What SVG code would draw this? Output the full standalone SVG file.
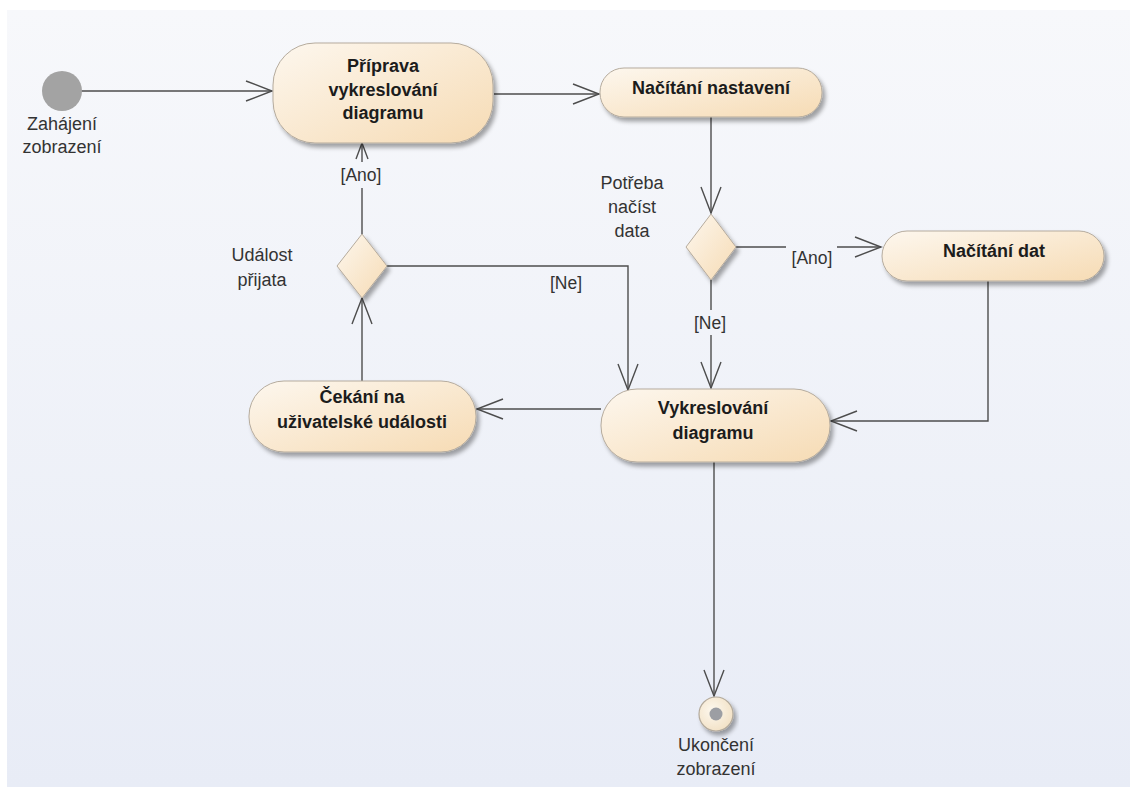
<svg xmlns="http://www.w3.org/2000/svg" width="1130" height="787" viewBox="0 0 1130 787">
  <defs>
    <linearGradient id="bg" x1="0" y1="0" x2="0" y2="1">
      <stop offset="0" stop-color="#f7f8fb"/>
      <stop offset="1" stop-color="#e8ecf6"/>
    </linearGradient>
    <linearGradient id="act" x1="0" y1="0" x2="1" y2="1">
      <stop offset="0" stop-color="#fdf7ee"/>
      <stop offset="1" stop-color="#f6dbb4"/>
    </linearGradient>
    <radialGradient id="endFill" cx="0.4" cy="0.4" r="0.7">
      <stop offset="0" stop-color="#fdf8ee"/>
      <stop offset="1" stop-color="#f1dfc2"/>
    </radialGradient>
    <filter id="shadow" x="-10%" y="-10%" width="125%" height="135%">
      <feDropShadow dx="3" dy="4" stdDeviation="2" flood-color="#000" flood-opacity="0.35"/>
    </filter>
    <marker id="open" markerUnits="userSpaceOnUse" viewBox="-28 -12 30 24" refX="0" refY="0" markerWidth="30" markerHeight="24" orient="auto">
      <path d="M -26 -10 L 0 0 L -26 10" fill="none" stroke="#4d4d4d" stroke-width="1.4"/>
    </marker>
    <marker id="openSmall" markerUnits="userSpaceOnUse" viewBox="-18 -8 20 16" refX="0" refY="0" markerWidth="20" markerHeight="16" orient="auto">
      <path d="M -16 -6 L 0 0 L -16 6" fill="none" stroke="#4d4d4d" stroke-width="1.4"/>
    </marker>
  </defs>
  <style>
    .flow { fill: none; stroke: #4d4d4d; stroke-width: 1.4; }
    .action { fill: url(#act); stroke: #b5ab9d; stroke-width: 1; filter: url(#shadow); }
    .title { font-family: "Liberation Sans", Arial, sans-serif; font-size: 18px; font-weight: bold; fill: #1c1c1c; text-anchor: middle; }
    .note { font-family: "Liberation Sans", Arial, sans-serif; font-size: 18px; fill: #333; text-anchor: middle; }
    .guard { font-family: "Liberation Sans", Arial, sans-serif; font-size: 17.5px; fill: #333; text-anchor: middle; }
  </style>

  <rect x="0" y="0" width="1130" height="787" fill="#ffffff"/>
  <rect x="7" y="10" width="1123" height="777" fill="url(#bg)"/>

  <!-- connectors -->
  <g id="connectors">
    <path class="flow" d="M 81 91 L 272 91" marker-end="url(#open)"/>
    <path class="flow" d="M 494 94 L 599 94" marker-end="url(#open)"/>
    <path class="flow" d="M 711 117 L 711 213" marker-end="url(#open)"/>
    <path class="flow" d="M 736 247 L 786 247"/>
    <path class="flow" d="M 837 247 L 881 247" marker-end="url(#open)"/>
    <path class="flow" d="M 711 280 L 711 310"/>
    <path class="flow" d="M 711 335 L 711 388" marker-end="url(#open)"/>
    <path class="flow" d="M 988 281 L 988 421 L 831 421" marker-end="url(#open)"/>
    <path class="flow" d="M 386 266 L 628 266 L 628 390" marker-end="url(#open)"/>
    <path class="flow" d="M 601 409 L 477 409" marker-end="url(#open)"/>
    <path class="flow" d="M 362 381 L 362 298" marker-end="url(#open)"/>
    <path class="flow" d="M 362 234 L 362 188"/>
    <path class="flow" d="M 362 162 L 362 143" marker-end="url(#openSmall)"/>
    <path class="flow" d="M 714 462 L 714 696" marker-end="url(#open)"/>
    <text class="guard" x="361" y="181">[Ano]</text>
    <text class="guard" x="812" y="264">[Ano]</text>
    <text class="guard" x="710" y="329">[Ne]</text>
    <text class="guard" x="566" y="289">[Ne]</text>
  </g>

  <g id="start">
    <circle cx="62" cy="91" r="20" fill="#a3a3a3"/>
    <text class="note" x="62" y="130">Zahájení</text>
    <text class="note" x="62" y="153">zobrazení</text>
  </g>

  <g id="priprava">
    <rect class="action" x="273" y="43" width="220" height="100" rx="42"/>
    <text class="title" x="383" y="72">Příprava</text>
    <text class="title" x="383" y="96">vykreslování</text>
    <text class="title" x="383" y="119">diagramu</text>
  </g>

  <g id="nacitani-nastaveni">
    <rect class="action" x="600" y="68" width="222" height="49" rx="24"/>
    <text class="title" x="711" y="94">Načítání nastavení</text>
  </g>

  <g id="potreba-nacist-data">
    <polygon class="action" points="711,214 736,247 711,280 686,247"/>
    <text class="note" x="632" y="189">Potřeba</text>
    <text class="note" x="632" y="213">načíst</text>
    <text class="note" x="632" y="237">data</text>
  </g>

  <g id="nacitani-dat">
    <rect class="action" x="882" y="231" width="222" height="50" rx="25"/>
    <text class="title" x="994" y="257">Načítání dat</text>
  </g>

  <g id="vykreslovani">
    <rect class="action" x="601" y="389" width="229" height="73" rx="36"/>
    <text class="title" x="713" y="414">Vykreslování</text>
    <text class="title" x="713" y="439">diagramu</text>
  </g>

  <g id="cekani">
    <rect class="action" x="249" y="381" width="227" height="71" rx="35"/>
    <text class="title" x="362" y="403">Čekání na</text>
    <text class="title" x="362" y="428">uživatelské události</text>
  </g>

  <g id="udalost-prijata">
    <polygon class="action" points="362,234 387,266 362,298 337,266"/>
    <text class="note" x="262" y="261">Událost</text>
    <text class="note" x="262" y="286">přijata</text>
  </g>

  <g id="end">
    <circle cx="716" cy="714" r="17" fill="url(#endFill)" stroke="#b3aa9c" stroke-width="1.2" filter="url(#shadow)"/>
    <circle cx="716" cy="714" r="6.5" fill="#9c9ea3"/>
    <text class="note" x="716" y="751">Ukončení</text>
    <text class="note" x="716" y="775">zobrazení</text>
  </g>
</svg>
